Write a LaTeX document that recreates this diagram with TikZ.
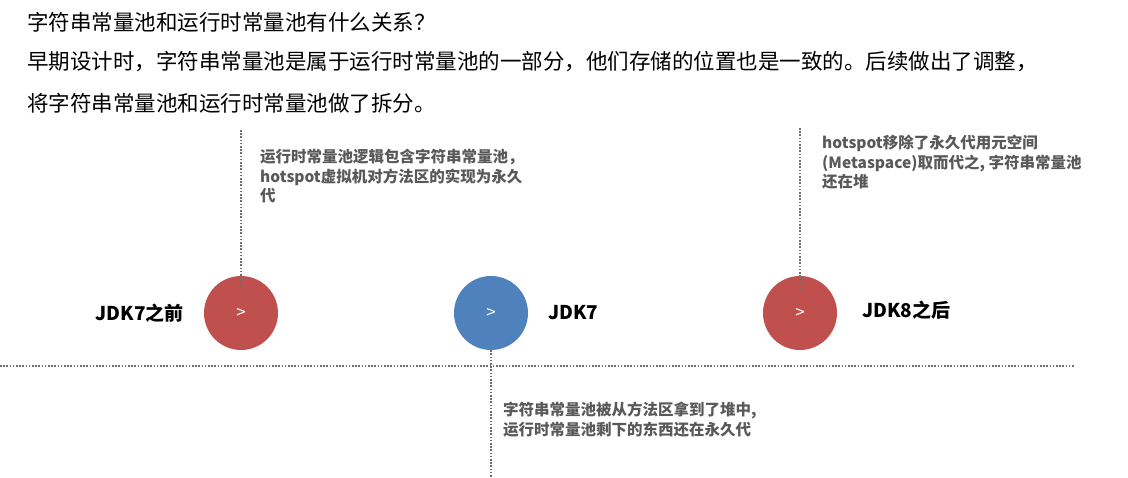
\documentclass[tikz,border=0pt]{standalone}
\usepackage{fontspec}
\setmainfont{Noto Sans CJK SC}
\usetikzlibrary{positioning, calc}
\definecolor{jdkRed}{RGB}{192, 80, 77}
\definecolor{jdkBlue}{RGB}{79, 129, 189}
\definecolor{noteGray}{RGB}{89, 89, 89}
\definecolor{dotGray}{RGB}{110, 110, 110}

\begin{document}
\begin{tikzpicture}[x=1pt, y=-1pt,
    every node/.style={inner sep=0pt},
    titleline/.style={anchor=west, font=\fontsize{21.5}{25}\selectfont},
    notetext/.style={anchor=north west, align=left, text=noteGray,
        font=\fontsize{15.5}{19.5}\selectfont\bfseries},
    jdklabel/.style={font=\fontsize{19}{22}\selectfont\bfseries},
    stage/.style={circle, minimum size=74pt, text=white,
        font=\fontsize{17}{18}\selectfont},
    dotline/.style={draw=dotGray, line width=1.6pt,
        dash pattern=on 1.6pt off 1.6pt}]
    \useasboundingbox (0,0) rectangle (1128,478);
    % heading
    \node[titleline] (q) at (27,22) {字符串常量池和运行时常量池有什么关系？};
    \node[titleline] (a1) at (27,62) {早期设计时，字符串常量池是属于运行时常量池的一部分，他们存储的位置也是一致的。后续做出了调整，};
    \node[titleline] (a2) at (27,103) {将字符串常量池和运行时常量池做了拆分。};
    % time line
    \coordinate (hl-a) at (0,366);
    \coordinate (hl-b) at (1075,366);
    \draw[dotline] (hl-a) -- (hl-b);
    % stages
    \node[stage, fill=jdkRed] (before) at (241,313) {>};
    \node[stage, fill=jdkBlue] (jdk7) at (491,313) {>};
    \node[stage, fill=jdkRed] (after) at (800,313) {>};
    \node[jdklabel, left=20pt of before] (l-before) {JDK7之前};
    \node[jdklabel, right=20pt of jdk7] (l-jdk7) {JDK7};
    \node[jdklabel, right=25pt of after, yshift=3pt] (l-after) {JDK8之后};
    % notes
    \coordinate (t-before) at (241,130);
    \coordinate (t-after) at (800,128);
    \coordinate (b-jdk7) at (491,478);
    \draw[dotline, shorten >=24pt] (t-before) -- (before.center);
    \draw[dotline, shorten >=24pt] (t-after) -- (after.center);
    \draw[dotline] (jdk7.south) -- (b-jdk7);
    \node[notetext] (n-before) at (260,149) {运行时常量池逻辑包含字符串常量池，\\hotspot虚拟机对方法区的实现为永久\\代};
    \node[notetext] (n-after) at (822,135) {hotspot移除了永久代用元空间\\(Metaspace)取而代之, 字符串常量池\\还在堆};
    \node[notetext] (n-jdk7) at (503,402) {字符串常量池被从方法区拿到了堆中,\\运行时常量池剩下的东西还在永久代};
\end{tikzpicture}
\end{document}
